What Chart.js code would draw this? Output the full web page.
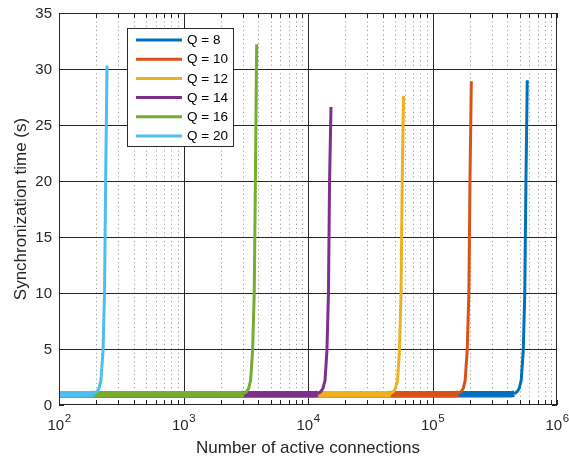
<!DOCTYPE html>
<html><head><meta charset="utf-8">
<script src="https://cdn.jsdelivr.net/npm/chart.js@4.4.1/dist/chart.umd.min.js"></script>
<style>html,body{margin:0;padding:0;background:#fff}#wrap{width:569px;height:457px}</style>
</head><body><div id="wrap"><canvas id="c" width="569" height="457"></canvas></div>
<script>
// ---- data ----
const seriesLabels = ['Q = 8', 'Q = 10', 'Q = 12', 'Q = 14', 'Q = 16', 'Q = 20'];
const seriesColors = ['#0072BD', '#D95319', '#EDB120', '#7E2F8E', '#77AC30', '#4DBEEE'];

const q8X  = [100, 421000, 454000, 480000, 498000, 516000, 536000, 551000, 563000, 577000];
const q8Y  = [0.95, 0.95, 1.0, 1.2, 1.5, 2.2, 4.9, 10, 20, 29.0];
const q10X = [100, 150000, 161000, 170000, 177000, 183000, 190000, 196000, 200000, 205000];
const q10Y = [0.95, 0.95, 1.0, 1.2, 1.5, 2.2, 4.9, 10, 20, 28.9];
const q12X = [100, 42700, 46000, 48600, 50500, 52400, 54300, 55900, 57100, 58500];
const q12Y = [0.95, 0.95, 1.0, 1.2, 1.5, 2.2, 4.9, 10, 20, 27.6];
const q14X = [100, 11200, 12000, 12700, 13200, 13700, 14200, 14600, 14900, 15300];
const q14Y = [0.95, 0.95, 1.0, 1.2, 1.5, 2.2, 4.9, 10, 20, 26.6];
const q16X = [100, 2830, 3040, 3220, 3340, 3460, 3590, 3700, 3780, 3870];
const q16Y = [0.95, 0.95, 1.0, 1.2, 1.5, 2.2, 4.9, 10, 20, 32.2];
const q20X = [100, 177, 191, 202, 210, 217, 226, 232, 237, 243];
const q20Y = [0.95, 0.95, 1.0, 1.2, 1.5, 2.2, 4.9, 10, 20, 30.3];

const seriesX = [q8X, q10X, q12X, q14X, q16X, q20X];
const seriesY = [q8Y, q10Y, q12Y, q14Y, q16Y, q20Y];

const xMin = 100, xMax = 1000000;
const yMin = 0, yMax = 35;
const xTickExponents = [2, 3, 4, 5, 6];
const yTickLabels = [0, 5, 10, 15, 20, 25, 30, 35];
const xTitle = 'Number of active connections';
const yTitle = 'Synchronization time (s)';

// ---- chart ----
const FONT = '"Liberation Sans", Arial, Helvetica, sans-serif';
const AX = '#262626';

const datasets = seriesLabels.map((lab, i) => ({
  label: lab,
  data: seriesX[i].map((x, k) => ({ x: x, y: seriesY[i][k] })),
  borderColor: seriesColors[i],
  backgroundColor: seriesColors[i],
  borderWidth: 3,
  pointRadius: 0,
  tension: 0,
  fill: false,
  order: seriesLabels.length - 1 - i,
  segment: {
    borderWidth: ctx => (ctx.p0.parsed.y < 1.1 && ctx.p1.parsed.y < 1.1) ? 6.5 : 3
  }
}));

const decor = {
  id: 'matlabDecor',
  beforeDatasetsDraw(chart) {
    const { ctx, chartArea: a, scales: { x, y } } = chart;
    ctx.save();
    ctx.lineWidth = 1;
    // minor x grid (dotted)
    ctx.strokeStyle = '#8a8a8a';
    ctx.setLineDash([1, 3.3]);
    for (let e = 2; e < 6; e++) {
      for (let m = 2; m <= 9; m++) {
        const px = Math.round(x.getPixelForValue(m * Math.pow(10, e))) + 0.5;
        ctx.beginPath(); ctx.moveTo(px, a.top); ctx.lineTo(px, a.bottom); ctx.stroke();
      }
    }
    ctx.setLineDash([]);
    ctx.strokeStyle = AX;
    for (let e = 3; e <= 5; e++) {
      const px = Math.round(x.getPixelForValue(Math.pow(10, e))) + 0.5;
      ctx.beginPath(); ctx.moveTo(px, a.top); ctx.lineTo(px, a.bottom); ctx.stroke();
    }
    yTickLabels.forEach(v => {
      if (v === yMin || v === yMax) return;
      const py = Math.round(y.getPixelForValue(v)) + 0.5;
      ctx.beginPath(); ctx.moveTo(a.left, py); ctx.lineTo(a.right, py); ctx.stroke();
    });
    ctx.restore();
  },
  afterDatasetsDraw(chart) {
    const { ctx, chartArea: a, scales: { x, y } } = chart;
    ctx.save();
    ctx.strokeStyle = AX;
    ctx.lineWidth = 1;
    // box
    ctx.strokeRect(a.left + 0.5, a.top + 0.5, a.right - a.left - 1, a.bottom - a.top - 1);
    // x ticks (inward, top & bottom)
    const tl = 5;
    for (let e = 2; e <= 6; e++) {
      for (let m = 1; m <= 9; m++) {
        const v = m * Math.pow(10, e);
        if (v > xMax) break;
        const px = Math.round(x.getPixelForValue(v)) + 0.5;
        ctx.beginPath();
        ctx.moveTo(px, a.bottom); ctx.lineTo(px, a.bottom - tl);
        ctx.moveTo(px, a.top); ctx.lineTo(px, a.top + tl);
        ctx.stroke();
      }
    }
    yTickLabels.forEach(v => {
      const py = Math.round(y.getPixelForValue(v)) + 0.5;
      ctx.beginPath();
      ctx.moveTo(a.left, py); ctx.lineTo(a.left + tl, py);
      ctx.moveTo(a.right, py); ctx.lineTo(a.right - tl, py);
      ctx.stroke();
    });
    // y tick labels
    ctx.fillStyle = AX;
    ctx.font = '15px ' + FONT;
    ctx.textAlign = 'right';
    ctx.textBaseline = 'middle';
    yTickLabels.forEach(v => {
      ctx.fillText(String(v), a.left - 7, y.getPixelForValue(v) + 1);
    });
    // x tick labels 10^n
    xTickExponents.forEach(e => {
      const px = x.getPixelForValue(Math.pow(10, e));
      ctx.font = '15px ' + FONT;
      const wb = ctx.measureText('10').width;
      ctx.font = '11.5px ' + FONT;
      const we = ctx.measureText(String(e)).width;
      const start = px - (wb + we) / 2;
      ctx.textAlign = 'left';
      ctx.textBaseline = 'middle';
      ctx.font = '15px ' + FONT;
      ctx.fillText('10', start, a.bottom + 21);
      ctx.font = '11.5px ' + FONT;
      ctx.fillText(String(e), start + wb + 0.5, a.bottom + 14);
    });
    // axis titles
    ctx.font = '17px ' + FONT;
    ctx.textAlign = 'center';
    ctx.textBaseline = 'middle';
    ctx.fillText(xTitle, (a.left + a.right) / 2, a.bottom + 43);
    ctx.save();
    ctx.translate(21, (a.top + a.bottom) / 2);
    ctx.rotate(-Math.PI / 2);
    ctx.fillText(yTitle, 0, 0);
    ctx.restore();
    // legend
    const lx = 127.5, ly = 28.5, lw = 106, lh = 118;
    ctx.fillStyle = '#ffffff';
    ctx.fillRect(lx, ly, lw, lh);
    ctx.strokeStyle = '#2b2b2b';
    ctx.strokeRect(lx, ly, lw, lh);
    ctx.font = '13.5px ' + FONT;
    ctx.textAlign = 'left';
    ctx.textBaseline = 'middle';
    chart.data.datasets.forEach((ds, i) => {
      const cy = 40 + i * 19.2;
      ctx.strokeStyle = ds.borderColor;
      ctx.lineWidth = 3;
      ctx.beginPath(); ctx.moveTo(136, cy); ctx.lineTo(182, cy); ctx.stroke();
      ctx.fillStyle = '#000';
      ctx.fillText(ds.label, 187, cy + 0.5);
    });
    ctx.restore();
  }
};

new Chart(document.getElementById('c'), {
  type: 'line',
  data: { datasets },
  options: {
    responsive: false,
    animation: false,
    devicePixelRatio: 1,
    layout: { padding: { left: 59, right: 12, top: 13, bottom: 52 } },
    plugins: { legend: { display: false }, tooltip: { enabled: false } },
    scales: {
      x: { type: 'logarithmic', min: xMin, max: xMax, display: false },
      y: { type: 'linear', min: yMin, max: yMax, display: false }
    }
  },
  plugins: [decor]
});
</script>
</body></html>
